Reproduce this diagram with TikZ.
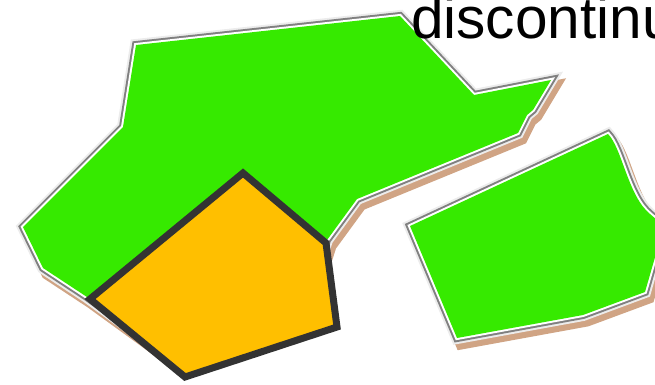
\documentclass[tikz,border=0pt]{standalone}
\usepackage{fontspec}
\setmainfont{Liberation Sans}
\definecolor{areagreen}{RGB}{54,234,0}
\definecolor{shadowtan}{RGB}{208,164,132}
\definecolor{halogray}{RGB}{236,236,236}
\definecolor{casegray}{RGB}{128,128,128}
\definecolor{amber}{RGB}{255,191,0}
\definecolor{darkline}{RGB}{51,51,51}
\begin{document}
\begin{tikzpicture}[x=1pt,y=-1pt,
  bigpoly/.style={insert path={(136,45) -- (400,16) -- (474,95) -- (551,80) -- (533,110) -- (527,115) -- (518,133) -- (357,199) -- (327,240) -- (320,262) -- (160,350) -- (87,297) -- (43,268) -- (23,227) -- (123,127) -- cycle}},
  smallpoly/.style={insert path={(410,226) -- (608,134) .. controls (622,148) and (628,196) .. (650,214) -- (664,226) -- (645,292) -- (583,315) -- (457,338) -- cycle}},
  shadowfill/.style={fill=shadowtan, draw=shadowtan, line width=11pt, line join=miter},
  halo/.style={draw=halogray, line width=12pt, line join=miter},
  casing/.style={draw=casegray, line width=8pt, line join=miter},
  gap/.style={draw=white, line width=4pt, line join=miter},
  area/.style={fill=areagreen},
  zone/.style={fill=amber, draw=darkline, line width=7pt, line join=miter},
  title/.style={font=\fontsize{58.5}{58.5}\selectfont, inner sep=0pt, anchor=base west}]
\useasboundingbox (0,0) rectangle (655,384);
% shadows
\path[shift={(4,6)}, bigpoly, shadowfill];
\path[shift={(4,6)}, smallpoly, shadowfill];
% big area
\path[bigpoly, halo];
\path[bigpoly, casing];
\path[bigpoly, gap];
\path[bigpoly, area];
% small area
\path[smallpoly, halo];
\path[smallpoly, casing];
\path[smallpoly, gap];
\path[smallpoly, area];
% highlighted zone
\path[zone] (243,173) -- (326,243) -- (337,327) -- (185,377) -- (90,299) -- cycle;
% label
\node[title] (label) at (411,38) {discontinu};
\end{tikzpicture}
\end{document}
